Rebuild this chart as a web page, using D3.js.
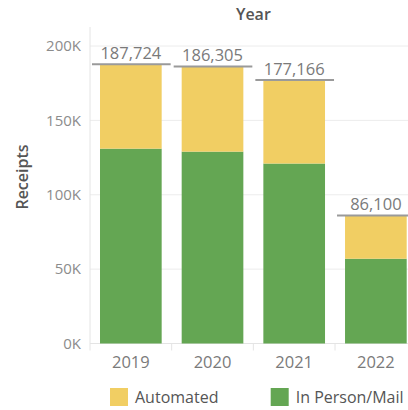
<!DOCTYPE html>
<html>
<head>
<meta charset="utf-8">
<script src="https://cdn.jsdelivr.net/npm/d3@7"></script>
<style>
  html, body { margin: 0; padding: 0; background: #fff; overflow: hidden; }
  svg { display: block; font-family: "Open Sans", sans-serif; }
</style>
</head>
<body>
<svg id="chart" width="408" height="410"></svg>
<script>
const years = ["2019", "2020", "2021", "2022"];
const inPersonMail = [131000, 129000, 121000, 57000];
const totals = [187724, 186305, 177166, 86100];
const automated = totals.map((t, i) => t - inPersonMail[i]);
const yTicks = [0, 50000, 100000, 150000, 200000];
const seriesNames = ["Automated", "In Person/Mail"];
const colors = ["#F1CE63", "#64A653"];

const svg = d3.select("#chart");
const W = 408, H = 410;
const plot = { left: 90, right: 416.7, top: 27, bottom: 343.5 };

const x = d3.scaleBand().domain(years).range([plot.left, plot.right])
  .paddingInner(0.245).paddingOuter(0.1225);
const y = d3.scaleLinear().domain([0, 212800]).range([plot.bottom, plot.top]);
const step = x.step();

// gridlines
svg.append("g").selectAll("line").data(yTicks.filter(d => d > 0)).join("line")
  .attr("x1", plot.left).attr("x2", W)
  .attr("y1", d => y(d)).attr("y2", d => y(d))
  .attr("stroke", "#ececec").attr("stroke-width", 1);

// y axis
const yAxis = svg.append("g").attr("transform", `translate(${plot.left},0)`)
  .call(d3.axisLeft(y).tickValues(yTicks).tickSize(0).tickPadding(9)
    .tickFormat(d => (d / 1000) + "K"));
yAxis.select(".domain").remove();
yAxis.selectAll("text").attr("fill", "#8c8c8c").style("font-size", "15px")
  .style("font-family", "'Open Sans', sans-serif");
svg.append("line").attr("x1", plot.left).attr("x2", plot.left)
  .attr("y1", plot.top).attr("y2", plot.bottom + 7)
  .attr("stroke", "#e4e4e4");

// baseline + x ticks between bands
svg.append("line").attr("x1", plot.left).attr("x2", W)
  .attr("y1", y(0)).attr("y2", y(0)).attr("stroke", "#e4e4e4");
svg.append("g").selectAll("line").data(years.slice(1)).join("line")
  .attr("x1", d => x(d) - step * x.paddingInner() / 2)
  .attr("x2", d => x(d) - step * x.paddingInner() / 2)
  .attr("y1", y(0)).attr("y2", y(0) + 7)
  .attr("stroke", "#e4e4e4");

// stacked bars
const rows = years.map((yr, i) => ({ year: yr, "In Person/Mail": inPersonMail[i], "Automated": automated[i] }));
const stack = d3.stack().keys(["In Person/Mail", "Automated"])(rows);
svg.append("g").selectAll("g").data(stack).join("g")
  .attr("fill", s => colors[seriesNames.indexOf(s.key)])
  .selectAll("rect").data(s => s).join("rect")
  .attr("x", d => x(d.data.year))
  .attr("width", x.bandwidth())
  .attr("y", d => y(d[1]))
  .attr("height", d => y(d[0]) - y(d[1]));

// total reference lines
svg.append("g").selectAll("line").data(years).join("line")
  .attr("x1", d => x(d) - step * x.paddingInner() / 2 + 2)
  .attr("x2", d => x(d) + x.bandwidth() + step * x.paddingInner() / 2 - 1)
  .attr("y1", (d, i) => y(totals[i])).attr("y2", (d, i) => y(totals[i]))
  .attr("stroke", "#9a9a9a").attr("stroke-width", 2);

// total labels
svg.append("g").selectAll("text").data(years).join("text")
  .attr("x", d => x(d) + x.bandwidth() / 2)
  .attr("y", (d, i) => y(totals[i]) - 5)
  .attr("text-anchor", "middle")
  .attr("fill", "#7a7a7a").style("font-size", "16.5px")
  .text((d, i) => d3.format(",")(totals[i]));

// x labels
svg.append("g").selectAll("text").data(years).join("text")
  .attr("x", d => x(d) + x.bandwidth() / 2)
  .attr("y", 367.5)
  .attr("text-anchor", "middle")
  .attr("fill", "#7a7a7a").style("font-size", "16.5px")
  .text(d => d);

// titles
svg.append("text").attr("x", (plot.left + plot.right) / 2).attr("y", 20)
  .attr("text-anchor", "middle").attr("fill", "#555").style("font-size", "16px")
  .style("font-weight", "600").text("Year");
svg.append("text").attr("transform", "translate(28,177) rotate(-90)")
  .attr("text-anchor", "middle").attr("fill", "#555").style("font-size", "16px")
  .style("font-weight", "600").text("Receipts");

// legend
const legendX = [110, 270.7];
const lg = svg.append("g").selectAll("g").data(seriesNames).join("g")
  .attr("transform", (d, i) => `translate(${legendX[i]},388)`);
lg.append("rect").attr("width", 18).attr("height", 18)
  .attr("fill", (d, i) => colors[i]);
lg.append("text").attr("x", 25).attr("y", 15)
  .attr("fill", "#555").style("font-size", "16px").text(d => d);
</script>
</body>
</html>
